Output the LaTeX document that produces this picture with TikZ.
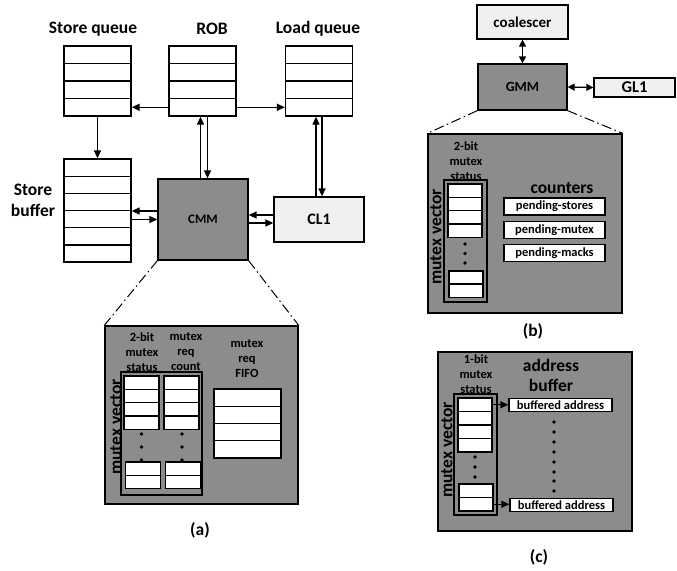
\documentclass[tikz,border=0pt]{standalone}
\usepackage{fontspec}
\setmainfont{Carlito}
\usetikzlibrary{arrows.meta,calc}
\definecolor{blockgray}{RGB}{140,140,140}
\definecolor{lightbox}{RGB}{240,240,240}
\begin{document}
\begin{tikzpicture}[x=1pt,y=-1pt,
  cell/.style={draw, fill=white, line width=1.3pt, inner sep=0pt},
  block/.style={draw, fill=blockgray, line width=1.3pt, inner sep=0pt},
  lite/.style={draw, fill=lightbox, line width=1.3pt, inner sep=0pt},
  arr/.style={-{Triangle[length=8pt,width=7pt]}, line width=1.3pt},
  darr/.style={{Triangle[length=7pt,width=7pt]}-{Triangle[length=7pt,width=7pt]}, line width=1.3pt},
  zoomline/.style={line width=1pt, dash pattern=on 10pt off 3.5pt on 1.5pt off 3.5pt},
  big/.style={font=\fontsize{17.5}{21}\selectfont\bfseries, align=center, inner sep=0pt},
  small/.style={font=\fontsize{12.5}{15}\selectfont\bfseries, align=center, inner sep=0pt},
  dot/.style={circle, fill=black, inner sep=0pt, minimum size=3.8pt},
]
\useasboundingbox (0,0) rectangle (677,570);

% ---------- core side ----------
\node[big] (lsq) at (93,29) {Store queue};
\node[big] (lrob) at (212,29) {ROB};
\node[big] (llq) at (318,29) {Load queue};
\node[big] (lsb) at (33,200) {Store\\buffer};

\foreach \i in {1,...,4} {
  \node[cell, minimum width=67pt, minimum height=17.5pt] (sq\i) at (97.5,{46+17.5*(\i-0.5)}) {};
  \node[cell, minimum width=67pt, minimum height=17.5pt] (rob\i) at (202.5,{46+17.5*(\i-0.5)}) {};
  \node[cell, minimum width=67pt, minimum height=17.5pt] (lq\i) at (319,{46+17.5*(\i-0.5)}) {};
}
\foreach \i in {1,...,6}
  \node[cell, minimum width=67pt, minimum height=17.17pt] (sb\i) at (97.5,{159+17.17*(\i-0.5)}) {};

\node[block, minimum width=90pt, minimum height=81pt, font=\fontsize{13}{15}\selectfont\bfseries] (cmm) at (203,219.5) {CMM};
\node[lite, minimum width=90pt, minimum height=45pt, font=\fontsize{16}{18}\selectfont\bfseries] (cl1) at (319,219.5) {CL1};

\draw[arr] (rob4.west) -- (sq4.east);
\draw[arr] (rob4.east) -- (lq4.west);
\draw[arr] (sq4.south) -- (sb1.north);
\draw[arr] ([xshift=-2pt]rob4.south |- cmm.north) -- ([xshift=-2pt]rob4.south);
\draw[arr] ([xshift=5pt]rob4.south) -- ([xshift=5pt]rob4.south |- cmm.north);
\draw[arr] ([xshift=-3pt]lq4.south |- cl1.north) -- ([xshift=-3pt]lq4.south);
\draw[arr] ([xshift=3pt]lq4.south) -- ([xshift=3pt]lq4.south |- cl1.north);
\draw[arr] ([yshift=8.5pt]cmm.west) -- ([yshift=8.5pt]cmm.west -| sb4.east);
\draw[arr] (sb4.east |- cmm.west) -- (cmm.west);
\draw[arr] ([yshift=4.5pt]cl1.west) -- ([yshift=4.5pt]cl1.west -| cmm.east);
\draw[arr] ([yshift=-3.5pt]cmm.east) -- ([yshift=-3.5pt]cmm.east -| cl1.west);

% ---------- (a) CMM detail ----------
\node[block, minimum width=193pt, minimum height=178pt] (suba) at (201.5,415) {};
\draw[zoomline] (cmm.south west) -- (suba.north west);
\draw[zoomline] (cmm.south east) -- (suba.north east);

\node[small] (ta1) at (142,352) {2-bit\\mutex\\status};
\node[small] (ta2) at (186,352) {mutex\\req\\count};
\node[small] (ta3) at (247,358.5) {mutex\\req\\FIFO};

\node[draw, line width=1.3pt, minimum width=81pt, minimum height=123pt, inner sep=0pt] (mva) at (161.5,433.5) {};
\node[big, rotate=90] (mvla) at (116,427) {mutex vector};
\foreach \i in {1,...,4} {
  \node[cell, minimum width=35pt, minimum height=13.3pt] (ma\i) at (141.5,{376+13.3*(\i-0.5)}) {};
  \node[cell, minimum width=35pt, minimum height=13.3pt] (ca\i) at (181.5,{376+13.3*(\i-0.5)}) {};
}
\foreach \i/\k in {5/1,6/2} {
  \node[cell, minimum width=35pt, minimum height=13.3pt] (ma\i) at (143,{462+13.3*(\k-0.5)}) {};
  \node[cell, minimum width=35pt, minimum height=13.3pt] (ca\i) at (183,{462+13.3*(\k-0.5)}) {};
}
\foreach \y [count=\j] in {434,447,460} {
  \node[dot] (dma\j) at (141.5,\y) {};
  \node[dot] (dca\j) at (182,\y) {};
}
\foreach \i in {1,...,4}
  \node[cell, minimum width=67pt, minimum height=17.25pt] (ff\i) at (247.5,{389+17.25*(\i-0.5)}) {};

\node[big] (capa) at (200,530) {(a)};

% ---------- GPU side ----------
\node[lite, minimum width=91pt, minimum height=34pt, font=\fontsize{15}{17}\selectfont\bfseries] (coal) at (522.5,22) {coalescer};
\node[block, minimum width=89pt, minimum height=46pt, font=\fontsize{14}{16}\selectfont\bfseries] (gmm) at (522.5,87) {GMM};
\node[lite, minimum width=81pt, minimum height=19pt, font=\fontsize{16.5}{18}\selectfont\bfseries] (gl1) at (634.5,87.5) {GL1};
\draw[darr] (coal.south) -- (gmm.north);
\draw[darr] (gmm.east) -- (gl1.west);

% ---------- (b) GMM detail ----------
\node[block, minimum width=194pt, minimum height=179pt] (subb) at (525,223.5) {};
\draw[zoomline] (gmm.south west) -- (subb.north west);
\draw[zoomline] (gmm.south east) -- (subb.north east);

\node[small] (tb1) at (466,161) {2-bit\\mutex\\status};
\node[draw, line width=1.3pt, minimum width=43pt, minimum height=122pt, inner sep=0pt] (mvb) at (465.5,241) {};
\node[big, rotate=90] (mvlb) at (436,237) {mutex vector};
\foreach \i in {1,...,4}
  \node[cell, minimum width=34pt, minimum height=13.3pt] (mb\i) at (465,{184+13.3*(\i-0.5)}) {};
\foreach \i/\k in {5/1,6/2}
  \node[cell, minimum width=34pt, minimum height=13.1pt] (mb\i) at (466,{271+13.1*(\k-0.5)}) {};
\foreach \y [count=\j] in {244,253.5,263}
  \node[dot] (dmb\j) at (465,\y) {};

\node[big] (cnt) at (562,188) {counters};
\node[cell, minimum width=101pt, minimum height=17pt, font=\fontsize{12.5}{15}\selectfont\bfseries] (ps) at (554.5,206.5) {pending-stores};
\node[cell, minimum width=101pt, minimum height=17pt, font=\fontsize{12.5}{15}\selectfont\bfseries] (pm) at (554.5,230) {pending-mutex};
\node[cell, minimum width=101pt, minimum height=17pt, font=\fontsize{12.5}{15}\selectfont\bfseries] (pk) at (554.5,253) {pending-macks};

\node[big] (capb) at (533,331) {(b)};

% ---------- (c) address buffer ----------
\node[block, minimum width=194pt, minimum height=179pt] (subc) at (535,441.5) {};
\node[small] (tc1) at (476,374.5) {1-bit\\mutex\\status};
\node[big, font=\fontsize{17.5}{20}\selectfont\bfseries] (tc2) at (551,375) {address\\buffer};
\node[draw, line width=1.3pt, minimum width=43pt, minimum height=121pt, inner sep=0pt] (mvc) at (475.5,454.5) {};
\node[big, rotate=90] (mvlc) at (447,450) {mutex vector};
\foreach \i in {1,...,4}
  \node[cell, minimum width=34pt, minimum height=13.5pt] (mc\i) at (475,{398+13.5*(\i-0.5)}) {};
\foreach \i/\k in {5/1,6/2}
  \node[cell, minimum width=34pt, minimum height=13.5pt] (mc\i) at (476,{484+13.5*(\k-0.5)}) {};
\foreach \y [count=\j] in {457,467,477}
  \node[dot] (dmc\j) at (475,\y) {};

\node[cell, minimum width=103pt, minimum height=13pt, font=\fontsize{12.5}{15}\selectfont\bfseries] (ba1) at (560.5,405) {buffered address};
\node[cell, minimum width=103pt, minimum height=13pt, font=\fontsize{12.5}{15}\selectfont\bfseries] (ba2) at (561.5,504.75) {buffered address};
\draw[arr] (mc1.east) -- (mc1.east -| ba1.west);
\draw[arr] (mc6.east) -- (mc6.east -| ba2.west);
\foreach \y [count=\j] in {422,432,442,452,462,472,481,491}
  \node[dot] (dba\j) at (554,\y) {};

\node[big] (capc) at (539,557) {(c)};
\end{tikzpicture}
\end{document}
